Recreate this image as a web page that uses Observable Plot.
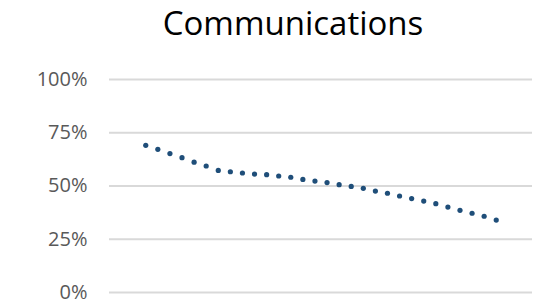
<!DOCTYPE html>
<html>
<head>
<meta charset="utf-8">
<script src="https://cdn.jsdelivr.net/npm/d3@7"></script>
<script src="https://cdn.jsdelivr.net/npm/@observablehq/plot@0.6"></script>
<style>
  html, body { margin: 0; padding: 0; background: #fff; }
  #wrap { width: 533px; height: 306px; position: relative; overflow: hidden; }
  #title { position: absolute; left: 0; top: 0; width: 533px; height: 60px; text-align: center;
           font-family: "Open Sans", sans-serif; font-size: 33px; line-height: 46px; color: #000;
           padding-left: 53px; box-sizing: border-box; white-space: nowrap; }
  #chart { position: absolute; left: 0; top: 60px; }
</style>
</head>
<body>
<div id="wrap">
  <div id="title"></div>
  <div id="chart"></div>
</div>
<script>
const title = "Communications";
const yTicks = [0, 0.25, 0.5, 0.75, 1];
const values = [69.1, 67.2, 65.2, 63.3, 61.2, 59.4, 57.3, 56.7, 56.1, 55.6,
                55.3, 54.7, 54.1, 53.1, 52.3, 51.6, 50.6, 49.8, 48.9, 47.6,
                46.6, 45.3, 44.1, 42.9, 41.7, 40.1, 38.6, 37.2, 35.8, 34.0];
const data = values.map((v, i) => ({i, v: v / 100}));

document.getElementById("title").textContent = title;

const chart = Plot.plot({
  width: 533,
  height: 246,
  marginTop: 19,
  marginBottom: 14,
  marginLeft: 109,
  marginRight: 1,
  style: {fontFamily: "Open Sans, sans-serif", fontSize: "20px", color: "#595959", background: "transparent"},
  x: {domain: [-3, 32], axis: null},
  y: {domain: [0, 1], ticks: yTicks, tickFormat: d3.format(".0%"), tickSize: 0, tickPadding: 22, label: null},
  marks: [
    Plot.ruleY(yTicks, {stroke: "#d9d9d9", strokeWidth: 2}),
    Plot.dot(data, {x: "i", y: "v", r: 2.6, fill: "#1f4e79", stroke: null})
  ]
});
document.getElementById("chart").appendChild(chart);
</script>
</body>
</html>
